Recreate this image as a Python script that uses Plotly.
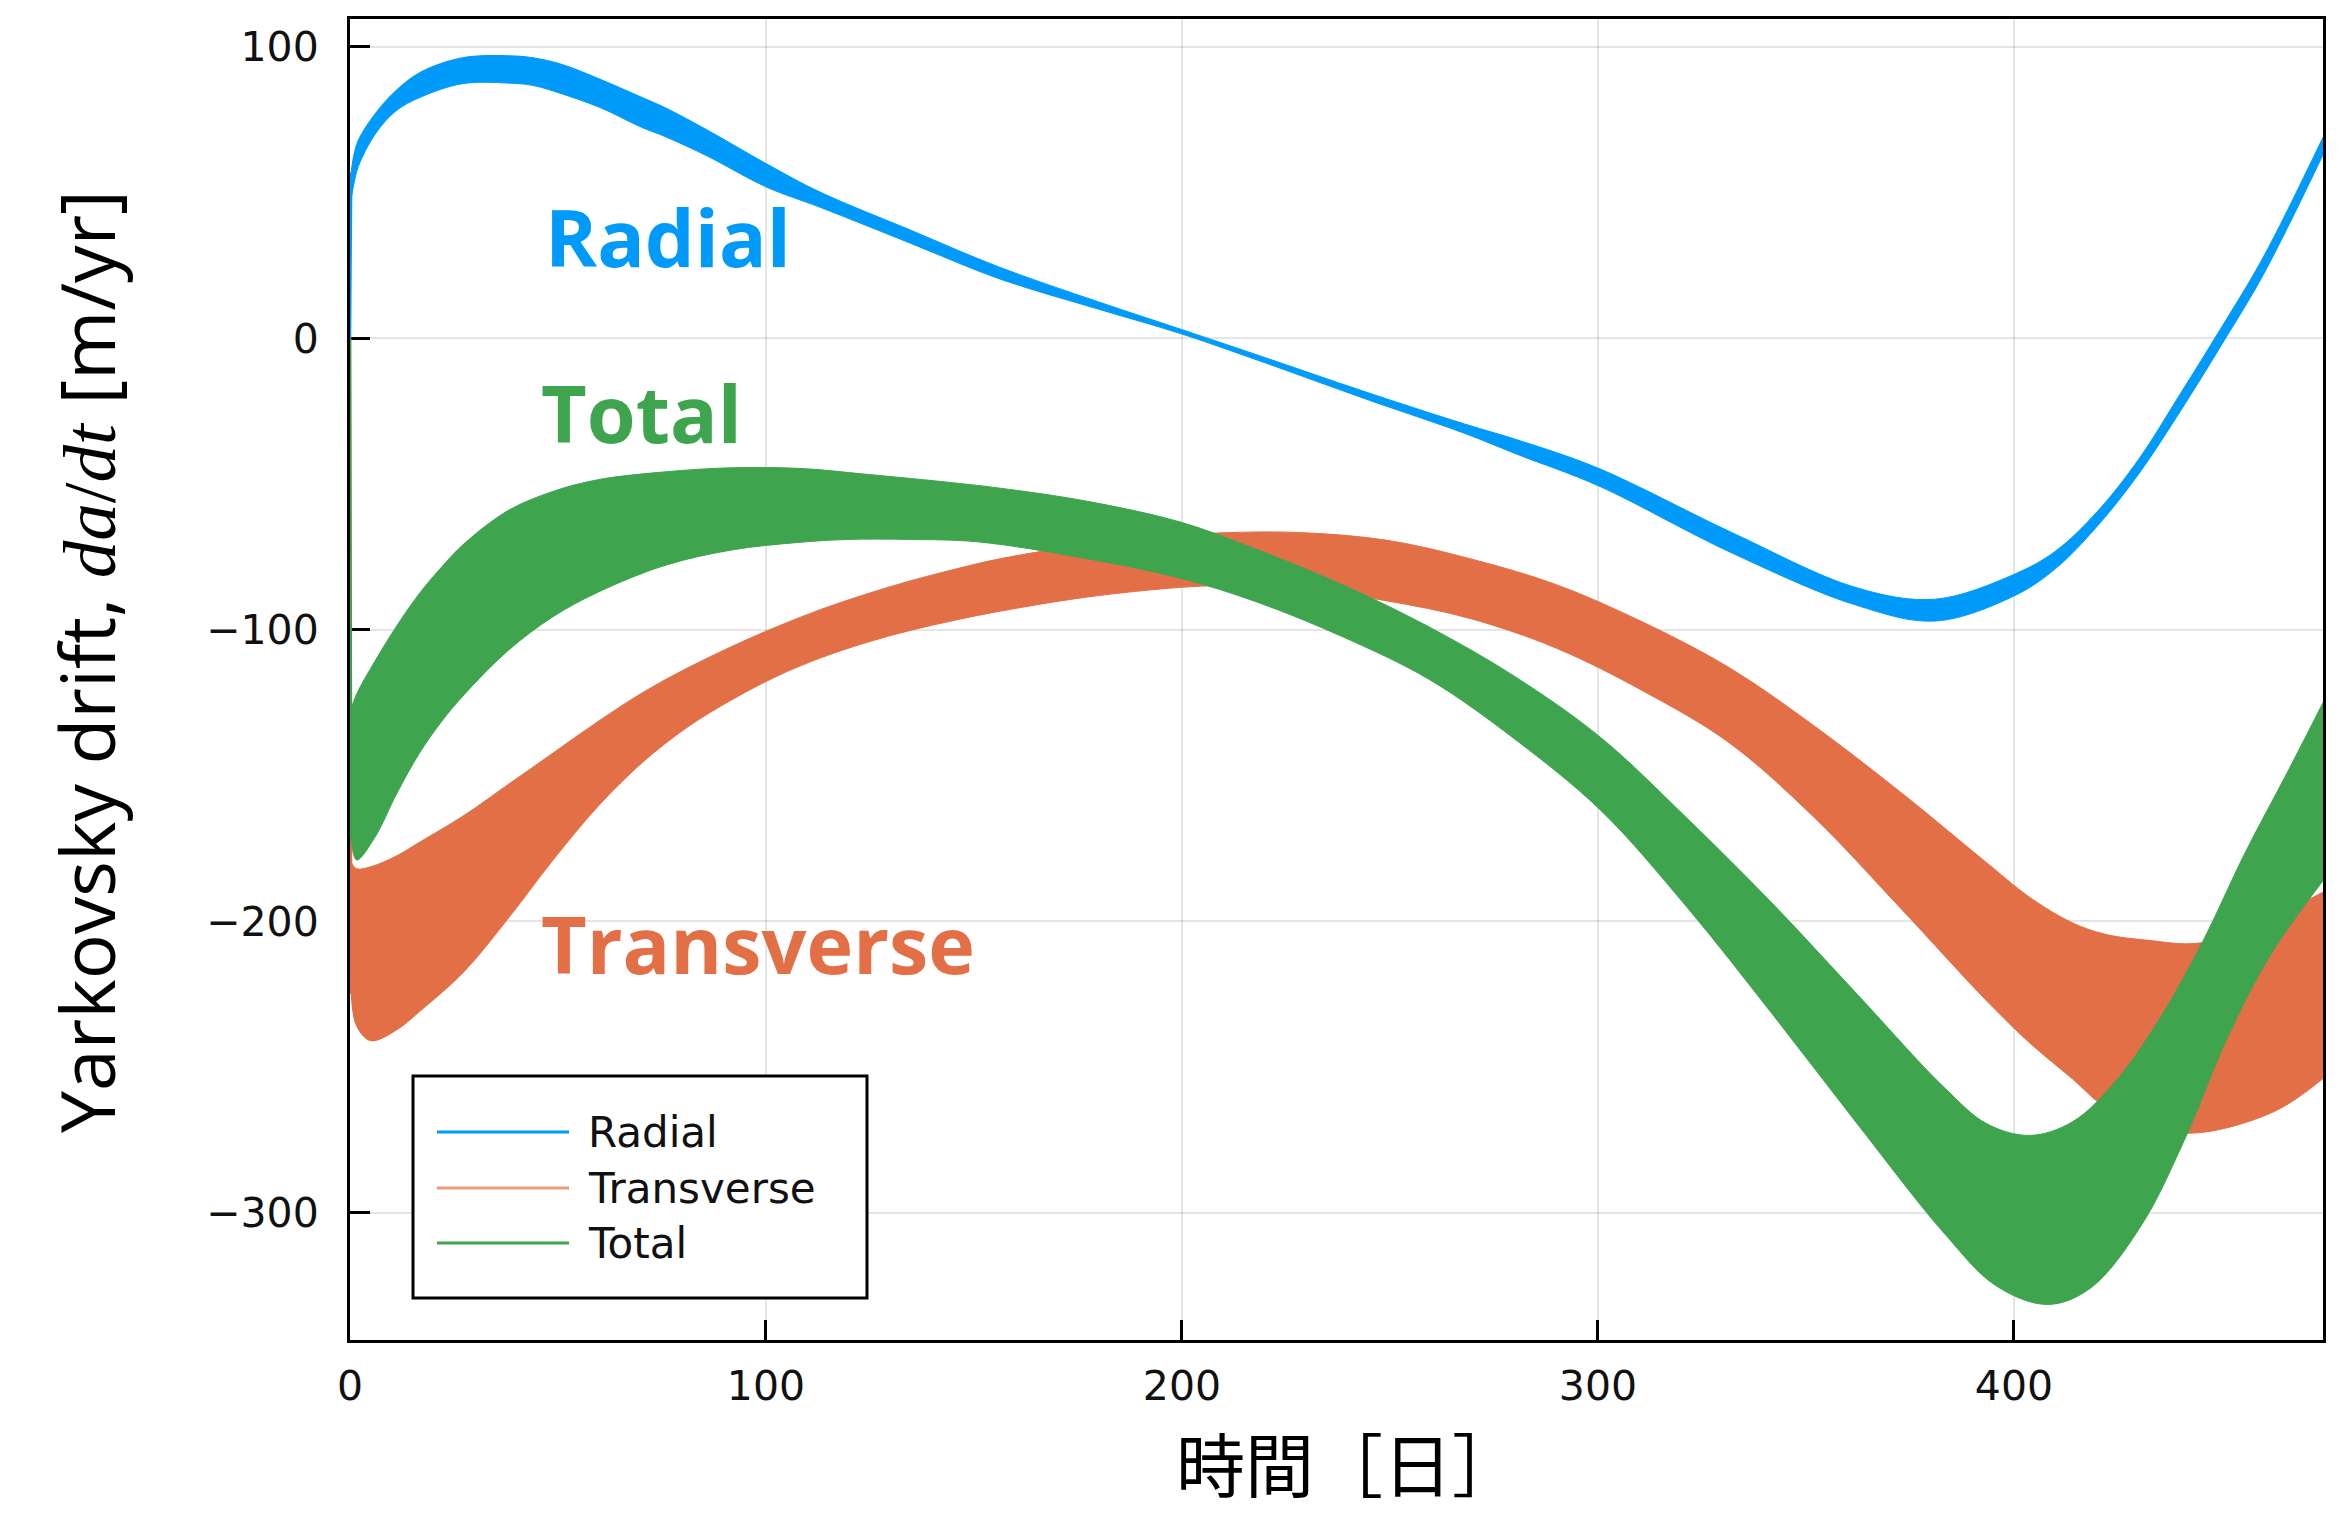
import plotly.graph_objects as go

# Yarkovsky drift components: envelopes (upper / lower) of the rapidly
# oscillating da/dt series, in m/yr versus time in days.
RADIAL_DAY = [0.3, 0.8, 2, 6, 11, 17, 27, 38, 44, 51, 60, 70, 76, 86, 100, 113, 135, 156,
              180, 200, 220, 244, 268, 281, 300, 332, 362, 381, 400, 410, 420, 430, 440, 450, 460, 474.3]
RADIAL_UP = [57, 62, 68, 77, 85, 91.4, 96.3, 97, 96.3, 94, 89, 82.8, 79, 71.4, 60, 50.2, 37, 24.5,
             12.5, 3, -6.6, -18.3, -29.4, -35, -44.5, -66.5, -85.5, -89.5, -81, -73, -59.5, -41.5,
             -19, 4, 28, 69]
RADIAL_LO = [48, 52, 59, 70, 78, 82.8, 87.4, 87.6, 86.8, 83.9, 79.3, 72.5, 69.1, 62.5, 52, 45, 32.5, 20.5,
             10, 1.5, -8.4, -20.7, -32.6, -40, -50.5, -73.5, -91.5, -97, -88.4, -79, -64.5, -46.5,
             -25, -2, 22, 63]

TRANS_DAY = [0.3, 1.6, 5, 11.3, 16.7, 27.4, 38.1, 48.8, 59.6, 70.3, 81, 91.8, 102.5, 113.2, 124, 134.7,
             145.4, 156.3, 177, 200, 212, 228, 249, 269, 290, 311, 331.6, 352, 373, 393.5, 404, 414,
             422, 432, 445, 463, 474.3]
TRANS_UP = [-180, -182, -181.3, -177.5, -172.9, -163.7, -153, -142.3, -131.5, -121.6, -113.2, -105.7,
            -99, -93, -87.8, -83.2, -79.2, -75.6, -70.8, -67.5, -66.6, -66.6, -69.2, -75.5, -84.5,
            -97.5, -113, -133, -156, -180, -192, -200.5, -204.5, -206.5, -207.4, -198, -190]
TRANS_LO = [-225, -236, -241, -237.2, -231, -217.3, -198.9, -179, -160.6, -145.5, -133.5, -124,
            -116, -109.6, -104.4, -100.2, -96.7, -93.6, -88.8, -85.4, -84.8, -85.7, -90, -96, -106.3,
            -121.1, -138.8, -164.4, -195.9, -227.4, -242, -254, -264, -271, -272.5, -265, -254]

TOTAL_UP_DAY = [0.3, 1.6, 5.9, 11.3, 16.7, 22, 27.4, 38.1, 48.8, 59.6, 75.7, 91.8, 107.9, 124, 145.4,
                156.3, 176.9, 199.6, 218.1, 238.8, 259.4, 280, 300.7, 321.3, 342, 362.6, 383.2, 393.5,
                403.8, 414.1, 424.4, 434.8, 445.1, 455.4, 465.7, 474.3]
TOTAL_UP = [-127, -122, -111, -98.5, -87.5, -78.5, -70.5, -59, -52.5, -48.5, -45.8, -44.4, -44.6,
            -46.6, -49.6, -51.4, -55.8, -63, -72.5, -84.7, -99, -116, -137, -164.5, -194, -225.5,
            -257, -269.5, -273.5, -268.8, -255, -234, -207.8, -177, -149, -125]
TOTAL_LO_DAY = [0.3, 1.6, 5.9, 11.3, 16.7, 22, 27.4, 38.1, 48.8, 59.6, 75.7, 91.8, 107.9, 119.6, 134.7,
                150.8, 176.9, 199.6, 218.1, 238.8, 259.4, 280, 300.7, 321.3, 342, 362.6, 383.2, 395.6,
                408, 418.3, 430.7, 441, 451.3, 461.6, 474.3]
TOTAL_LO = [-172, -179, -171.4, -156, -142.3, -131.5, -122.3, -107, -95.5, -87.1, -77.9, -72.6, -70,
            -69, -69, -69.8, -75.5, -82.3, -90.5, -102.5, -117, -137.5, -162, -195, -232, -270,
            -307, -325, -331.5, -326, -304.2, -275, -240, -211.7, -186.1]

START_DAY = 0.0
START_VALUE = 0.0

X_TICKS = [0, 100, 200, 300, 400]
Y_TICKS = [-300, -200, -100, 0, 100]
X_RANGE = [0, 474.3]
Y_RANGE = [-343.7, 109.6]

SERIES = ["Radial", "Transverse", "Total"]
COLORS = {"Radial": "#009AFA", "Transverse": "#E36F47", "Total": "#3EA44E"}
LEGEND_COLORS = {"Radial": "#009AFA", "Transverse": "#EB9A7E", "Total": "#3EA44E"}

# figure geometry (pixels)
W, H = 2346, 1516
L, R, T, B = 350, 23, 19, 176
PW, PH = W - L - R, H - T - B


def px(x):
    return (x - L) / PW


def py(y):
    return (H - B - y) / PH


bands = {
    "Radial": (RADIAL_DAY, RADIAL_UP, RADIAL_DAY, RADIAL_LO),
    "Transverse": (TRANS_DAY, TRANS_UP, TRANS_DAY, TRANS_LO),
    "Total": (TOTAL_UP_DAY, TOTAL_UP, TOTAL_LO_DAY, TOTAL_LO),
}

fig = go.Figure()
for name in SERIES:
    ud, uv, ld, lv = bands[name]
    c = COLORS[name]
    # initial transient from zero at t = 0
    fig.add_trace(go.Scatter(x=[START_DAY, ld[0], ud[0]], y=[START_VALUE, lv[0], uv[0]],
                             mode="lines", line=dict(color=c, width=2.5),
                             showlegend=False, hoverinfo="skip"))
    fig.add_trace(go.Scatter(x=ld, y=lv, mode="lines",
                             line=dict(color=c, width=1, shape="spline", smoothing=1.0),
                             showlegend=False, hoverinfo="skip"))
    fig.add_trace(go.Scatter(x=ud, y=uv, mode="lines", fill="tonexty", fillcolor=c,
                             line=dict(color=c, width=1, shape="spline", smoothing=1.0),
                             name=name, showlegend=False))

axis_common = dict(
    showline=True, linecolor="black", linewidth=3, mirror=True,
    ticks="inside", ticklen=20, tickwidth=2.5, tickcolor="black",
    showgrid=True, gridcolor="rgba(0,0,0,0.1)", gridwidth=2,
    zeroline=False, layer="below traces",
    tickfont=dict(family="DejaVu Sans", size=41, color="#111"),
)

fig.update_xaxes(range=X_RANGE, tickmode="array", tickvals=X_TICKS,
                 ticklabelstandoff=8, **axis_common)
fig.update_yaxes(range=Y_RANGE, tickmode="array", tickvals=Y_TICKS,
                 ticklabelstandoff=20, **axis_common)

annotations = []
# in-plot series labels
label_font = "Open Sans"
for text, xd, yv in [("Radial", 46.5, 35.0), ("Total", 45.5, -25.5), ("Transverse", 45.5, -207.5)]:
    annotations.append(dict(x=xd, y=yv, xref="x", yref="y", text=f"<b>{text}</b>",
                            showarrow=False, xanchor="left", yanchor="middle",
                            font=dict(family=label_font, size=79, color=COLORS[text])))

# axis titles
annotations.append(dict(
    x=px(86), y=py(662), xref="paper", yref="paper", textangle=-90,
    text="Yarkovsky drift, <span style=\"font-family:'Liberation Serif'\"><i>da</i>/<i>dt</i></span> [m/yr]",
    showarrow=False, xanchor="center", yanchor="middle",
    font=dict(family="Open Sans", size=75, color="black")))
annotations.append(dict(
    x=px(1348), y=py(1462), xref="paper", yref="paper", text="時間［日］",
    showarrow=False, xanchor="center", yanchor="middle",
    font=dict(family="Noto Sans CJK JP", size=69, color="black")))

# legend box
shapes = [dict(type="rect", xref="paper", yref="paper",
               x0=px(413), x1=px(867), y0=py(1298), y1=py(1076),
               line=dict(color="black", width=3), fillcolor="white", layer="above")]
for name, yy in zip(SERIES, [1132, 1188, 1243]):
    shapes.append(dict(type="line", xref="paper", yref="paper",
                       x0=px(437), x1=px(569), y0=py(yy), y1=py(yy),
                       line=dict(color=LEGEND_COLORS[name], width=3), layer="above"))
    annotations.append(dict(x=px(586), y=py(yy), xref="paper", yref="paper", text=name,
                            showarrow=False, xanchor="left", yanchor="middle",
                            font=dict(family="DejaVu Sans", size=42, color="#111")))

fig.update_layout(
    width=W, height=H,
    margin=dict(l=L, r=R, t=T, b=B),
    plot_bgcolor="white", paper_bgcolor="white",
    showlegend=False,
    annotations=annotations, shapes=shapes,
)

fig.write_html("out.html")
